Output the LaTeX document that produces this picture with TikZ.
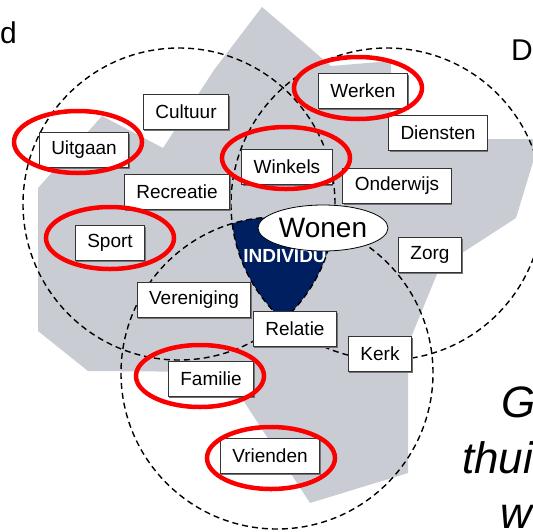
\documentclass[tikz,border=0pt]{standalone}
\usepackage{fontspec}
\setmainfont{Liberation Sans}
\usetikzlibrary{shapes.geometric,shadows}
\definecolor{vlak}{RGB}{201,205,211}
\definecolor{kern}{RGB}{0,31,96}
\definecolor{rood}{RGB}{250,0,0}

\begin{document}
\begin{tikzpicture}[x=1pt,y=-1pt]
\tikzstyle{box} = [draw=black!80, fill=white, line width=0.9pt, minimum height=35pt, inner xsep=12pt, inner ysep=0pt, font=\fontsize{19}{22}\selectfont, drop shadow={shadow xshift=1pt, shadow yshift=-1pt, fill=black!55, opacity=1}]
\tikzstyle{kring} = [draw=black, line width=1.4pt, dash pattern=on 6pt off 4pt]
\tikzstyle{ring} = [draw=rood, line width=4.5pt]
\tikzstyle{rest} = [inner sep=0pt, font=\fontsize{30}{36}\selectfont]
\tikzstyle{schuin} = [inner sep=0pt, font=\fontsize{44}{50}\selectfont\itshape]

\useasboundingbox (0,0) rectangle (533,531);
\clip (0,0) rectangle (533,531);

% grijze vlek
\fill[vlak] (262,7) -- (331,66) -- (391,61) -- (391,139) -- (533,139) -- (533,162)
  -- (516,218) -- (462,253) -- (437,274) -- (412,335) -- (408,365) -- (408,473)
  -- (310,503) -- (243,400) -- (228,372) -- (88,371) -- (38,331) -- (38,188)
  -- (102,116) -- (163,148) -- (214,70) -- cycle;

% doorsnede van de drie kringen
\begin{scope}
\clip (179,204) circle[radius=156pt];
\clip (387,204) circle[radius=156pt];
\fill[kern] (277,373) circle[radius=156pt];
\end{scope}
\node[inner sep=0pt, text=white, font=\bfseries\fontsize{19}{22}\selectfont] (individu) at (285,256) {INDIVIDU};

\draw[kring] (179,204) circle[radius=156pt];
\draw[kring] (387,204) circle[radius=156pt];
\draw[kring] (277,373) circle[radius=156pt];

\node[ellipse, draw=black, line width=0.8pt, fill=white, minimum width=130pt, minimum height=46pt, inner sep=0pt, font=\fontsize{28}{32}\selectfont] (wonen) at (323,228) {Wonen};

\node[box] (cultuur) at (186,112) {Cultuur};
\node[box] (uitgaan) at (84,150) {Uitgaan};
\node[box] (werken) at (363,91) {Werken};
\node[box] (diensten) at (438,133) {Diensten};
\node[box] (winkels) at (287,167) {Winkels};
\node[box] (recreatie) at (177,192) {Recreatie};
\node[box] (onderwijs) at (397,186) {Onderwijs};
\node[box] (sport) at (110,243) {Sport};
\node[box] (zorg) at (430,255) {Zorg};
\node[box] (vereniging) at (194,300) {Vereniging};
\node[box] (relatie) at (295,329) {Relatie};
\node[box] (kerk) at (380,354) {Kerk};
\node[box] (familie) at (211,379) {Familie};
\node[box] (vrienden) at (270,456) {Vrienden};

% rode ringen
\draw[ring] (78,142) ellipse[x radius=64pt, y radius=31pt];
\draw[ring] (358,88) ellipse[x radius=64pt, y radius=31pt];
\draw[ring] (286,158) ellipse[x radius=64pt, y radius=31pt];
\draw[ring] (110,238) ellipse[x radius=64pt, y radius=31pt];
\draw[ring] (200,376) ellipse[x radius=64pt, y radius=31pt];
\draw[ring] (271,458) ellipse[x radius=64pt, y radius=31pt];

% afgesneden tekst
\node[rest, anchor=base east] (links) at (17,43) {d};
\node[rest, anchor=base west] (rechts) at (511,60) {D};
\node[schuin, anchor=base west] (regel1) at (501,417) {G};
\node[schuin, anchor=base west] (regel2) at (462,473) {thui};
\node[schuin, anchor=base west] (regel3) at (500,528) {w};
\end{tikzpicture}
\end{document}
